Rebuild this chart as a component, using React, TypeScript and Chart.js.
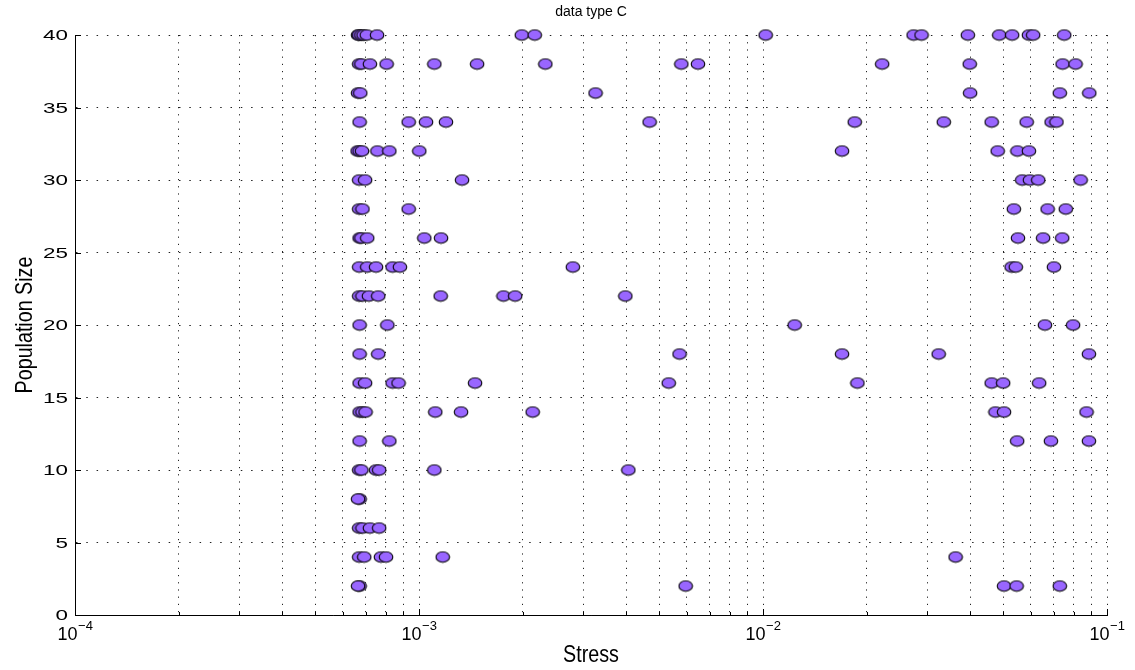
import React, { useEffect, useRef } from 'react';
import { Chart, registerables } from 'chart.js';

Chart.register(...registerables);

// ---- data ----
const chartTitle = 'data type C';
const xAxisTitle = 'Stress';
const yAxisTitle = 'Population Size';

const popSizes = [2, 4, 6, 8, 10, 12, 14, 16, 18, 20, 22, 24, 26, 28, 30, 32, 34, 36, 38, 40];

const stress02 = [6.72e-4, 6.65e-4, 5.96e-3, 5.02e-2, 5.46e-2, 7.29e-2];
const stress04 = [6.7e-4, 6.93e-4, 7.75e-4, 8.02e-4, 1.172e-3, 3.63e-2];
const stress06 = [6.7e-4, 6.85e-4, 7.2e-4, 7.66e-4];
const stress08 = [6.72e-4, 6.65e-4];
const stress10 = [6.7e-4, 6.8e-4, 7.5e-4, 7.66e-4, 1.108e-3, 4.06e-3];
const stress12 = [6.72e-4, 8.2e-4, 5.48e-2, 6.87e-2, 8.86e-2];
const stress14 = [6.72e-4, 6.85e-4, 6.99e-4, 1.115e-3, 1.325e-3, 2.14e-3, 4.74e-2, 5.02e-2, 8.72e-2];
const stress16 = [6.72e-4, 6.97e-4, 8.38e-4, 8.72e-4, 1.455e-3, 5.32e-3, 1.881e-2, 4.62e-2, 4.99e-2, 6.35e-2];
const stress18 = [6.72e-4, 7.61e-4, 5.72e-3, 1.697e-2, 3.24e-2, 8.86e-2];
const stress20 = [6.72e-4, 8.09e-4, 1.236e-2, 6.6e-2, 7.97e-2];
const stress22 = [6.7e-4, 6.85e-4, 7.15e-4, 7.61e-4, 1.156e-3, 1.76e-3, 1.903e-3, 3.98e-3];
const stress24 = [6.7e-4, 7.07e-4, 7.5e-4, 8.38e-4, 8.8e-4, 2.8e-3, 5.28e-2, 5.43e-2, 7.01e-2];
const stress26 = [6.72e-4, 6.8e-4, 7.07e-4, 1.036e-3, 1.159e-3, 5.51e-2, 6.52e-2, 7.41e-2];
const stress28 = [6.7e-4, 6.85e-4, 9.33e-4, 5.36e-2, 6.72e-2, 7.59e-2];
const stress30 = [6.7e-4, 6.97e-4, 1.334e-3, 5.67e-2, 5.97e-2, 6.31e-2, 8.38e-2];
const stress32 = [6.63e-4, 6.72e-4, 6.83e-4, 7.57e-4, 8.2e-4, 1.002e-3, 1.697e-2, 4.81e-2, 5.49e-2, 5.93e-2];
const stress34 = [6.72e-4, 9.33e-4, 1.048e-3, 1.198e-3, 4.68e-3, 1.848e-2, 3.354e-2, 4.62e-2, 5.84e-2, 6.9e-2, 7.13e-2];
const stress36 = [6.65e-4, 6.75e-4, 3.26e-3, 4.0e-2, 7.29e-2, 8.88e-2];
const stress38 = [6.7e-4, 6.8e-4, 7.2e-4, 8.05e-4, 1.108e-3, 1.475e-3, 2.33e-3, 5.79e-3, 6.47e-3, 2.22e-2, 3.99e-2, 7.43e-2, 8.1e-2];
const stress40 = [6.65e-4, 6.7e-4, 6.8e-4, 6.9e-4, 7.05e-4, 7.55e-4, 1.99e-3, 2.17e-3, 1.018e-2, 2.74e-2, 2.89e-2, 3.94e-2, 4.86e-2, 5.3e-2, 5.93e-2, 6.1e-2, 7.51e-2];

const stressRows = [
  stress02, stress04, stress06, stress08, stress10, stress12, stress14, stress16, stress18, stress20,
  stress22, stress24, stress26, stress28, stress30, stress32, stress34, stress36, stress38, stress40,
];

const xMin = 1e-4;
const xMax = 1e-1;
const xTickValues = [
  1e-4, 2e-4, 3e-4, 4e-4, 5e-4, 6e-4, 7e-4, 8e-4, 9e-4,
  1e-3, 2e-3, 3e-3, 4e-3, 5e-3, 6e-3, 7e-3, 8e-3, 9e-3,
  1e-2, 2e-2, 3e-2, 4e-2, 5e-2, 6e-2, 7e-2, 8e-2, 9e-2,
  1e-1,
];
const xMajorExponents = [-4, -3, -2, -1];
const yTickValues = [0, 5, 10, 15, 20, 25, 30, 35, 40];

const SANS = "'Liberation Sans', Arial, Helvetica, sans-serif";

function makeMarker(): HTMLCanvasElement {
  const c = document.createElement('canvas');
  c.width = 16;
  c.height = 13;
  const g = c.getContext('2d')!;
  g.beginPath();
  g.ellipse(8, 6.5, 6.8, 5.2, 0, 0, Math.PI * 2);
  g.fillStyle = '#9966ff';
  g.fill();
  g.lineWidth = 1.1;
  g.strokeStyle = '#000';
  g.stroke();
  return c;
}

const isMajor = (v: number) => xMajorExponents.some((e) => Math.abs(Math.log10(v) - e) < 1e-9);

const matlabAxesPlugin = {
  id: 'matlabAxes',
  afterDraw(chart: any) {
    const { ctx, chartArea } = chart;
    const xs = chart.scales.x;
    const ys = chart.scales.y;
    ctx.save();
    // inward tick marks
    ctx.strokeStyle = '#000';
    ctx.lineWidth = 1;
    ctx.setLineDash([]);
    ctx.beginPath();
    xs.ticks.forEach((t: any) => {
      const px = Math.round(xs.getPixelForValue(t.value)) + 0.5;
      const len = isMajor(t.value) ? 6 : 3;
      ctx.moveTo(px, chartArea.bottom);
      ctx.lineTo(px, chartArea.bottom - len);
    });
    ys.ticks.forEach((t: any) => {
      const py = Math.round(ys.getPixelForValue(t.value)) + 0.5;
      ctx.moveTo(chartArea.left, py);
      ctx.lineTo(chartArea.left + 6, py);
    });
    ctx.stroke();

    ctx.fillStyle = '#000';
    // y tick labels (wide, as in the reference)
    ctx.font = `14px ${SANS}`;
    ctx.textAlign = 'right';
    ctx.textBaseline = 'middle';
    ys.ticks.forEach((t: any) => {
      const py = ys.getPixelForValue(t.value);
      ctx.save();
      ctx.translate(chartArea.left - 7, py + 1.5);
      ctx.scale(1.6, 1);
      ctx.fillText(String(t.value), 0, 0);
      ctx.restore();
    });

    // x tick labels: 10 with superscript exponent
    ctx.textAlign = 'left';
    ctx.textBaseline = 'alphabetic';
    xMajorExponents.forEach((e) => {
      const px = xs.getPixelForValue(Math.pow(10, e));
      const base = '10';
      const expo = '\u2212' + String(Math.abs(e));
      ctx.font = `18px ${SANS}`;
      const w1 = ctx.measureText(base).width;
      ctx.font = `13px ${SANS}`;
      const w2 = ctx.measureText(expo).width;
      const start = px - (w1 + w2) / 2;
      ctx.font = `18px ${SANS}`;
      ctx.fillText(base, start, chartArea.bottom + 25);
      ctx.font = `13px ${SANS}`;
      ctx.fillText(expo, start + w1 + 0.5, chartArea.bottom + 14.5);
    });

    // axis titles (condensed, as in the reference)
    const midX = (chartArea.left + chartArea.right) / 2;
    const midY = (chartArea.top + chartArea.bottom) / 2;
    ctx.font = `24px ${SANS}`;
    ctx.textAlign = 'center';
    ctx.textBaseline = 'middle';
    ctx.save();
    ctx.translate(midX, chartArea.bottom + 40);
    ctx.scale(0.82, 1);
    ctx.fillText(xAxisTitle, 0, 0);
    ctx.restore();

    ctx.save();
    ctx.translate(25, midY);
    ctx.rotate(-Math.PI / 2);
    ctx.scale(0.82, 1);
    ctx.fillText(yAxisTitle, 0, 0);
    ctx.restore();

    ctx.restore();
  },
};

export default function App() {
  const canvasRef = useRef<HTMLCanvasElement | null>(null);

  useEffect(() => {
    if (!canvasRef.current) return;
    const marker = makeMarker();
    const points: { x: number; y: number }[] = [];
    stressRows.forEach((row, i) => {
      row.forEach((s) => points.push({ x: s, y: popSizes[i] }));
    });

    const chart = new Chart(canvasRef.current, {
      type: 'scatter',
      data: {
        datasets: [
          {
            label: 'data',
            data: points,
            pointStyle: marker as any,
            pointRadius: 6,
            pointHoverRadius: 6,
            clip: false as any,
          },
        ],
      },
      plugins: [matlabAxesPlugin as any],
      options: {
        animation: false,
        responsive: false,
        devicePixelRatio: 1,
        events: [],
        layout: { padding: { left: 0, right: 28, top: 0, bottom: 0 } },
        plugins: {
          legend: { display: false },
          tooltip: { enabled: false },
          title: {
            display: true,
            fullSize: false,
            text: chartTitle,
            color: '#000',
            font: { family: SANS, size: 14, weight: 'normal' as any },
            padding: { top: 3.6, bottom: 14.6 },
          },
        },
        scales: {
          x: {
            type: 'logarithmic',
            min: xMin,
            max: xMax,
            afterBuildTicks: (s: any) => {
              s.ticks = xTickValues.map((v) => ({ value: v, major: isMajor(v) }));
            },
            afterFit: (s: any) => {
              s.height = 55;
            },
            ticks: { display: false },
            grid: { color: '#222', lineWidth: 1, drawTicks: false },
            border: { display: true, color: '#000', width: 1, dash: [1.2, 6] },
            title: { display: false },
          },
          y: {
            type: 'linear',
            min: 0,
            max: 40,
            afterBuildTicks: (s: any) => {
              s.ticks = yTickValues.map((v) => ({ value: v }));
            },
            afterFit: (s: any) => {
              s.width = 75;
            },
            ticks: { display: false },
            grid: { color: '#222', lineWidth: 1, drawTicks: false },
            border: { display: true, color: '#000', width: 1, dash: [1.5, 8.8] },
            title: { display: false },
          },
        },
      } as any,
    });
    return () => chart.destroy();
  }, []);

  return (
    <div style={{ position: 'absolute', left: 0, top: 0, width: 1135, height: 670, background: '#fff' }}>
      <canvas ref={canvasRef} width={1135} height={670} style={{ display: 'block' }} />
    </div>
  );
}
